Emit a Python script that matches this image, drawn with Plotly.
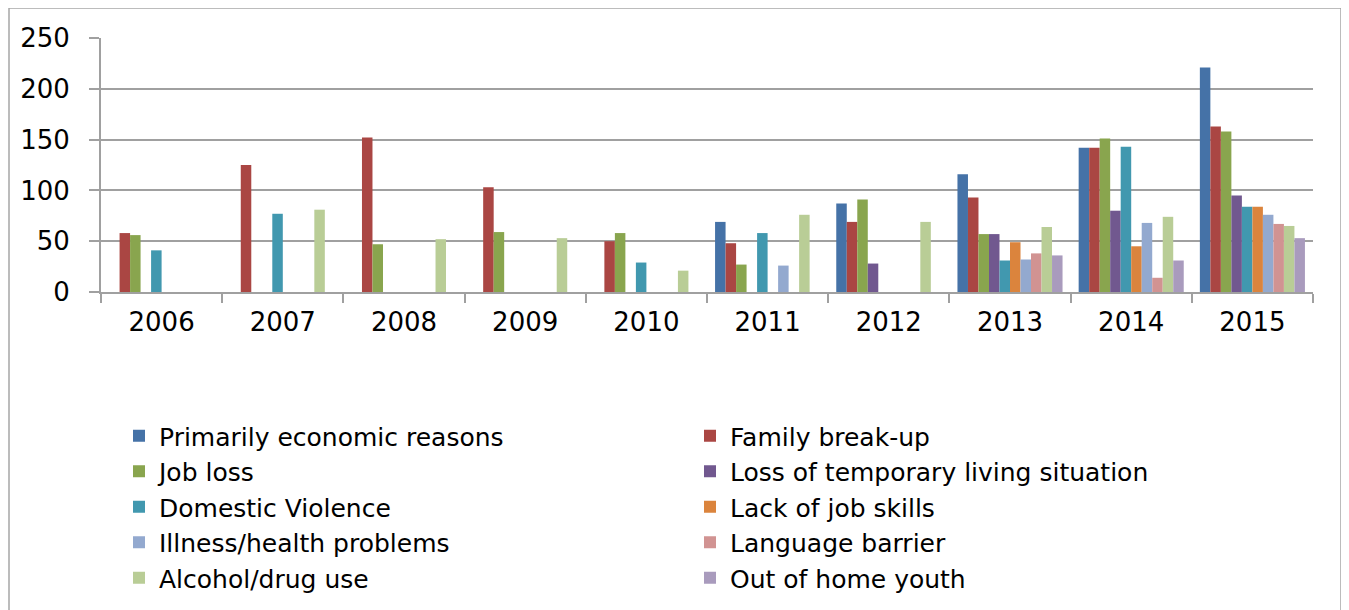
import plotly.graph_objects as go

years = ["2006", "2007", "2008", "2009", "2010", "2011", "2012", "2013", "2014", "2015"]

primarily_economic = [None, None, None, None, None, 69, 87, 116, 142, 221]
family_breakup = [58, 125, 152, 103, 50, 48, 69, 93, 142, 163]
job_loss = [56, None, 47, 59, 58, 27, 91, 57, 151, 158]
loss_temp_living = [None, None, None, None, None, None, 28, 57, 80, 95]
domestic_violence = [41, 77, None, None, 29, 58, None, 31, 143, 84]
lack_job_skills = [None, None, None, None, None, None, None, 49, 45, 84]
illness_health = [None, None, None, None, None, 26, None, 32, 68, 76]
language_barrier = [None, None, None, None, None, None, None, 38, 14, 67]
alcohol_drug = [None, 81, 52, 53, 21, 76, 69, 64, 74, 65]
out_of_home_youth = [None, None, None, None, None, None, None, 36, 31, 53]

series_names = [
    "Primarily economic reasons", "Family break-up", "Job loss",
    "Loss of temporary living situation", "Domestic Violence", "Lack of job skills",
    "Illness/health problems", "Language barrier", "Alcohol/drug use", "Out of home youth",
]
series_values = [
    primarily_economic, family_breakup, job_loss, loss_temp_living, domestic_violence,
    lack_job_skills, illness_health, language_barrier, alcohol_drug, out_of_home_youth,
]
colors = ["#4572A7", "#AA4643", "#89A54E", "#71588F", "#4198AF",
          "#DB843D", "#93A9CF", "#D19392", "#B9CD96", "#A99BBD"]

y_ticks = [0, 50, 100, 150, 200, 250]

fig = go.Figure()
for name, vals, col in zip(series_names, series_values, colors):
    fig.add_trace(go.Bar(x=years, y=vals, name=name, marker=dict(color=col, line=dict(width=0))))

W, H = 1341, 602
FONT = "DejaVu Sans, Verdana, sans-serif"
fig.update_layout(
    width=W, height=H,
    barmode="group", bargap=0.133, bargroupgap=0,
    plot_bgcolor="white", paper_bgcolor="white",
    margin=dict(l=93, r=36, t=30, b=318, autoexpand=False),
    font=dict(family=FONT, size=26, color="#000000"),
    showlegend=True,
    legend=dict(
        orientation="h", xref="container", yref="container",
        x=111 / W, xanchor="left", y=(H - 405) / H, yanchor="top",
        entrywidth=526, entrywidthmode="pixels",
        font=dict(family=FONT, size=25, color="#000000"),
        tracegroupgap=0, itemsizing="constant", traceorder="normal",
        itemwidth=30, bgcolor="rgba(0,0,0,0)",
    ),
    xaxis=dict(
        type="category", showgrid=False, showline=True, linecolor="#A0A0A0", linewidth=2,
        ticks="outside", tickson="boundaries", ticklen=9, tickcolor="#A0A0A0", tickwidth=2,
        tickfont=dict(size=26), ticklabelstandoff=6,
    ),
    yaxis=dict(
        range=[0, 250], tickvals=y_ticks, showgrid=True, gridcolor="#A0A0A0", gridwidth=2,
        showline=True, linecolor="#A0A0A0", linewidth=2, zeroline=False,
        ticks="outside", ticklen=10, tickcolor="#A0A0A0", tickwidth=2,
        tickfont=dict(size=26), ticklabelstandoff=14,
    ),
)

# outer chart border
fig.add_shape(type="rect", xref="paper", yref="paper",
              x0=(9 - 101) / 1212, x1=(1341 - 101) / 1212,
              y0=(292 - 640) / 254, y1=(292 - 8) / 254,
              line=dict(color="#A6A6A6", width=1.5), layer="below")

fig.write_html("out.html")
